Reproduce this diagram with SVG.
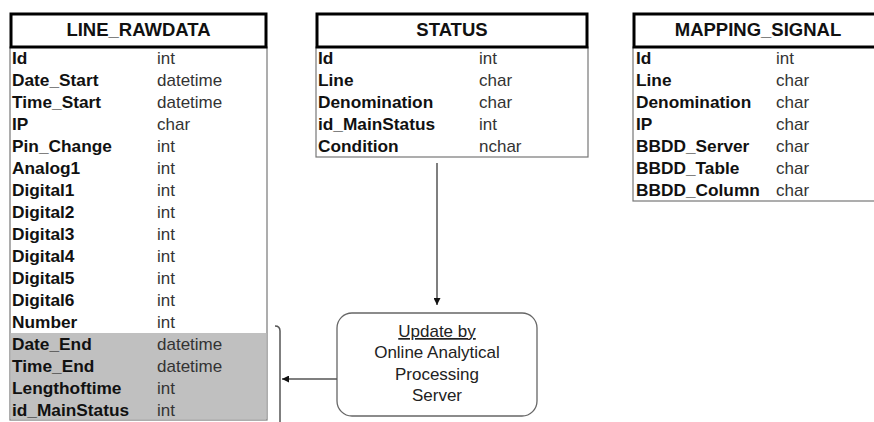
<svg xmlns="http://www.w3.org/2000/svg" width="874" height="422" viewBox="0 0 874 422">
<style>
.hdr{fill:#fff;stroke:#000;stroke-width:3}
.body{fill:#fff;stroke:#777;stroke-width:1.2}
.ht{font-family:"Liberation Sans",Arial,sans-serif;font-weight:bold;font-size:18.5px;fill:#111;text-anchor:middle}
.f{font-family:"Liberation Sans",Arial,sans-serif;font-weight:bold;font-size:17.3px;fill:#111}
.t{font-family:"Liberation Sans",Arial,sans-serif;font-size:17px;fill:#333}
.bt{font-family:"Liberation Sans",Arial,sans-serif;font-size:17px;fill:#222;text-anchor:middle}
.conn{stroke:#555;stroke-width:1.5;fill:none}
</style>
<defs>
<marker id="ah" viewBox="0 0 10 10" refX="10" refY="5" markerWidth="7" markerHeight="7" orient="auto" markerUnits="userSpaceOnUse">
<path d="M0,0 L10,5 L0,10 z" fill="#111"/>
</marker>
</defs>
<rect width="874" height="422" fill="#fff"/>

<g id="line_rawdata">
<rect class="body" x="10" y="47" width="257" height="373"/>
<rect x="10.6" y="333" width="255.8" height="86.4" fill="#c0c0c0"/>
<rect class="hdr" x="11" y="14" width="255" height="33"/>
<text class="ht" x="138.5" y="36">LINE_RAWDATA</text>
<g class="f">
<text x="12" y="64">Id</text>
<text x="12" y="86">Date_Start</text>
<text x="12" y="108">Time_Start</text>
<text x="12" y="130">IP</text>
<text x="12" y="152">Pin_Change</text>
<text x="12" y="174">Analog1</text>
<text x="12" y="196">Digital1</text>
<text x="12" y="218">Digital2</text>
<text x="12" y="240">Digital3</text>
<text x="12" y="262">Digital4</text>
<text x="12" y="284">Digital5</text>
<text x="12" y="306">Digital6</text>
<text x="12" y="328">Number</text>
<text x="12" y="350">Date_End</text>
<text x="12" y="372">Time_End</text>
<text x="12" y="394">Lengthoftime</text>
<text x="12" y="416">id_MainStatus</text>
</g>
<g class="t">
<text x="157" y="64">int</text>
<text x="157" y="86">datetime</text>
<text x="157" y="108">datetime</text>
<text x="157" y="130">char</text>
<text x="157" y="152">int</text>
<text x="157" y="174">int</text>
<text x="157" y="196">int</text>
<text x="157" y="218">int</text>
<text x="157" y="240">int</text>
<text x="157" y="262">int</text>
<text x="157" y="284">int</text>
<text x="157" y="306">int</text>
<text x="157" y="328">int</text>
<text x="157" y="350">datetime</text>
<text x="157" y="372">datetime</text>
<text x="157" y="394">int</text>
<text x="157" y="416">int</text>
</g>
</g>

<g id="status">
<rect class="body" x="316" y="47" width="272" height="110"/>
<rect class="hdr" x="317" y="14" width="270" height="33"/>
<text class="ht" x="452" y="36">STATUS</text>
<g class="f">
<text x="318" y="64">Id</text>
<text x="318" y="86">Line</text>
<text x="318" y="108">Denomination</text>
<text x="318" y="130">id_MainStatus</text>
<text x="318" y="152">Condition</text>
</g>
<g class="t">
<text x="479" y="64">int</text>
<text x="479" y="86">char</text>
<text x="479" y="108">char</text>
<text x="479" y="130">int</text>
<text x="479" y="152">nchar</text>
</g>
</g>

<g id="mapping_signal">
<rect class="body" x="633" y="47" width="250" height="154"/>
<rect class="hdr" x="634" y="14" width="248" height="33"/>
<text class="ht" x="758" y="36">MAPPING_SIGNAL</text>
<g class="f">
<text x="636" y="64">Id</text>
<text x="636" y="86">Line</text>
<text x="636" y="108">Denomination</text>
<text x="636" y="130">IP</text>
<text x="636" y="152">BBDD_Server</text>
<text x="636" y="174">BBDD_Table</text>
<text x="636" y="196">BBDD_Column</text>
</g>
<g class="t">
<text x="776" y="64">int</text>
<text x="776" y="86">char</text>
<text x="776" y="108">char</text>
<text x="776" y="130">char</text>
<text x="776" y="152">char</text>
<text x="776" y="174">char</text>
<text x="776" y="196">char</text>
</g>
</g>

<g id="olap_server">
<rect x="337" y="313" width="200" height="103" rx="15" ry="15" fill="#fff" stroke="#666" stroke-width="1.3"/>
<text class="bt" x="437" y="337" text-decoration="underline">Update by</text>
<text class="bt" x="437" y="358">Online Analytical</text>
<text class="bt" x="437" y="380">Processing</text>
<text class="bt" x="437" y="401">Server</text>
</g>

<g id="connectors">
<line class="conn" x1="437" y1="163" x2="437" y2="305" marker-end="url(#ah)"/>
<line class="conn" x1="337" y1="379" x2="282" y2="379" marker-end="url(#ah)"/>
<path class="conn" d="M275,326 Q280,326 280,331 L280,424"/>
</g>
</svg>
